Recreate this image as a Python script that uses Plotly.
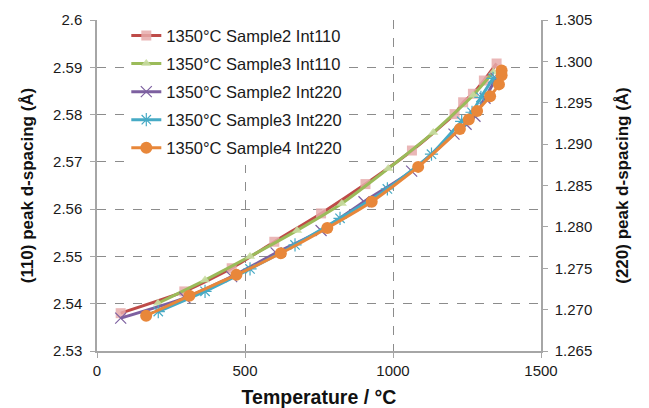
import plotly.graph_objects as go

# ---- data ----
s2_110_T = [80, 295, 455, 599, 757, 907, 1064, 1208, 1237, 1270, 1307, 1350]
s2_110_d = [2.5380, 2.5426, 2.5475, 2.5531, 2.5591, 2.5653, 2.5724, 2.5801, 2.5826, 2.5844, 2.5872, 2.5908]

s3_110_T = [206, 365, 517, 676, 827, 984, 1136, 1271, 1339]
s3_110_d = [2.5401, 2.5450, 2.5500, 2.5555, 2.5612, 2.5686, 2.5762, 2.5841, 2.5890]

s2_220_T = [80, 297, 455, 605, 757, 902, 1063, 1206, 1247, 1277, 1311, 1348]
s2_220_d = [1.26898, 1.27143, 1.27399, 1.27685, 1.27956, 1.28304, 1.28674, 1.29120, 1.29240, 1.29337, 1.29554, 1.29795]

s3_220_T = [207, 365, 517, 669, 821, 981, 1130, 1232, 1267, 1297, 1338]
s3_220_d = [1.26977, 1.27221, 1.27492, 1.27782, 1.28103, 1.28459, 1.28879, 1.29276, 1.29385, 1.29566, 1.29795]

s4_220_T = [166, 312, 471, 621, 778, 928, 1085, 1226, 1256, 1284, 1328, 1358, 1367, 1367]
s4_220_d = [1.26926, 1.27167, 1.27420, 1.27681, 1.27986, 1.28304, 1.28725, 1.29184, 1.29297, 1.29401, 1.29578, 1.29722, 1.29831, 1.29891]

x_ticks = [0, 500, 1000, 1500]
y1_ticks = [2.53, 2.54, 2.55, 2.56, 2.57, 2.58, 2.59, 2.6]
y1_labels = ["2.53", "2.54", "2.55", "2.56", "2.57", "2.58", "2.59", "2.6"]
y2_ticks = [1.265, 1.27, 1.275, 1.28, 1.285, 1.29, 1.295, 1.3, 1.305]
y2_labels = ["1.265", "1.270", "1.275", "1.280", "1.285", "1.290", "1.295", "1.300", "1.305"]

names = ["1350°C Sample2 Int110", "1350°C Sample3 Int110", "1350°C Sample2 Int220",
         "1350°C Sample3 Int220", "1350°C Sample4 Int220"]

FONT = "Liberation Sans, Arial, sans-serif"
fig = go.Figure()

def add(T, d, name, lc, mc, sym, msize, axis, mline=None):
    marker = dict(symbol=sym, size=msize, color=mc)
    if mline:
        marker["line"] = mline
    fig.add_trace(go.Scatter(
        x=T, y=d, name=name, mode="lines+markers", yaxis=axis,
        line=dict(color=lc, width=3, shape="spline", smoothing=0.6),
        marker=marker, legendgroup=name))

add(s2_110_T, s2_110_d, names[0], "#BE4B48", "rgba(230,170,170,0.85)", "square", 10, "y")
add(s3_110_T, s3_110_d, names[1], "#9BBB59", "rgba(200,220,160,0.9)", "triangle-up", 9, "y")
add(s2_220_T, s2_220_d, names[2], "#7D60A0", "#7D60A0", "x-thin-open", 11, "y2",
    mline=dict(color="#7D60A0", width=1.2))
add(s3_220_T, s3_220_d, names[3], "#46AAC5", "#46AAC5", "asterisk-open", 11, "y2",
    mline=dict(color="#46AAC5", width=1.2))
add(s4_220_T, s4_220_d, names[4], "#E8873A", "#E8873A", "circle", 12, "y2")

axcol = "#A6A6A6"
TICKF = dict(size=15, color="#1a1a1a")
TITF = dict(size=17, color="#111111")
fig.update_layout(
    width=649, height=408,
    margin=dict(l=97, r=108, t=19.5, b=57),
    paper_bgcolor="white", plot_bgcolor="white",
    font=dict(family=FONT, size=15, color="#1a1a1a"),
    showlegend=True,
    legend=dict(x=0.066, y=1.005, xanchor="left", yanchor="top",
                bgcolor="white", font=dict(size=16.5, family=FONT, color="#1a1a1a"),
                traceorder="grouped", tracegroupgap=3.6, itemwidth=30,
                borderwidth=0),
    xaxis=dict(range=[0, 1500], tickvals=x_ticks, ticks="outside", ticklen=5,
               tickcolor=axcol, showline=True, linecolor=axcol, linewidth=1.5,
               showgrid=True, gridcolor="#8c8c8c", griddash="dash", gridwidth=1,
               zeroline=False, tickfont=TICKF, automargin=False,
               title=dict(text="<b>Temperature / °C</b>",
                          font=dict(size=19.5, color="#111111"), standoff=14)),
    yaxis=dict(range=[2.53, 2.6], tickvals=y1_ticks, ticktext=y1_labels,
               ticks="outside", ticklen=5, tickcolor=axcol, showline=True,
               linecolor=axcol, linewidth=1.5, showgrid=True, gridcolor="#8c8c8c",
               griddash="dash", gridwidth=1, zeroline=False, tickfont=TICKF,
               ticklabelstandoff=5, automargin=False,
               title=dict(text="<b>(110) peak d-spacing (Å)</b>", font=TITF,
                          standoff=15)),
    yaxis2=dict(range=[1.265, 1.305], tickvals=y2_ticks, ticktext=y2_labels,
                overlaying="y", side="right", ticks="outside", ticklen=5,
                tickcolor=axcol, showline=True, linecolor=axcol, linewidth=1.5,
                showgrid=False, zeroline=False, tickfont=TICKF,
                ticklabelstandoff=4, automargin=False,
                title=dict(text="<b>(220) peak d-spacing (Å)</b>", font=TITF,
                           standoff=25)),
)

fig.write_html("out.html")
